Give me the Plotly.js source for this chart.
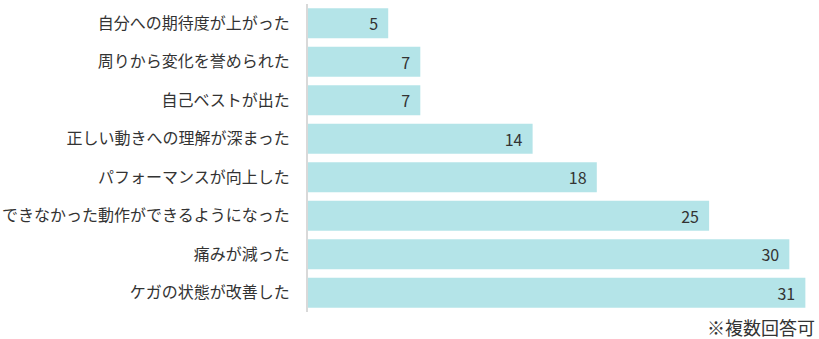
<!DOCTYPE html>
<html>
<head>
<meta charset="utf-8">
<script src="https://cdn.plot.ly/plotly-3.0.1.min.js"></script>
<style>html,body{margin:0;padding:0;background:#fff;}#chart{width:819px;height:339px;}</style>
</head>
<body>
<div id="chart"></div>
<script>
const categories = [
  "自分への期待度が上がった",
  "周りから変化を誉められた",
  "自己ベストが出た",
  "正しい動きへの理解が深まった",
  "パフォーマンスが向上した",
  "できなかった動作ができるようになった",
  "痛みが減った",
  "ケガの状態が改善した"
];
const counts = [5, 7, 7, 14, 18, 25, 30, 31];
const footnote = "※複数回答可";

const font = "'Noto Sans CJK JP', 'Noto Sans', sans-serif";

Plotly.newPlot("chart", [{
  type: "bar",
  orientation: "h",
  y: categories,
  x: counts,
  marker: {color: "#b4e4e8", line: {width: 0}},
  text: counts,
  texttemplate: "%{x}\u00a0\u00a0",
  textposition: "inside",
  insidetextanchor: "end",
  textangle: 0,
  insidetextfont: {family: font, size: 16, color: "#333333"},
  hoverinfo: "none",
  cliponaxis: false
}], {
  width: 819,
  height: 339,
  margin: {l: 308, r: 4, t: 4, b: 27},
  paper_bgcolor: "#ffffff",
  plot_bgcolor: "#ffffff",
  bargap: 0.22,
  showlegend: false,
  font: {family: font, size: 16, color: "#333333"},
  xaxis: {
    range: [0, 31.6],
    showgrid: false,
    zeroline: false,
    showticklabels: false,
    showline: false,
    fixedrange: true
  },
  yaxis: {
    autorange: "reversed",
    showgrid: false,
    zeroline: false,
    showline: true,
    linecolor: "#d9d9d9",
    linewidth: 2,
    ticks: "",
    ticklabelstandoff: 13,
    tickfont: {family: font, size: 16, color: "#333333"},
    fixedrange: true
  },
  annotations: [{
    text: footnote,
    xref: "paper", yref: "paper",
    x: 1, y: 0, xanchor: "right", yanchor: "top",
    xshift: 2,
    yshift: 0,
    showarrow: false,
    font: {family: font, size: 18, color: "#333333"}
  }]
}, {displayModeBar: false, staticPlot: true});
</script>
</body>
</html>
